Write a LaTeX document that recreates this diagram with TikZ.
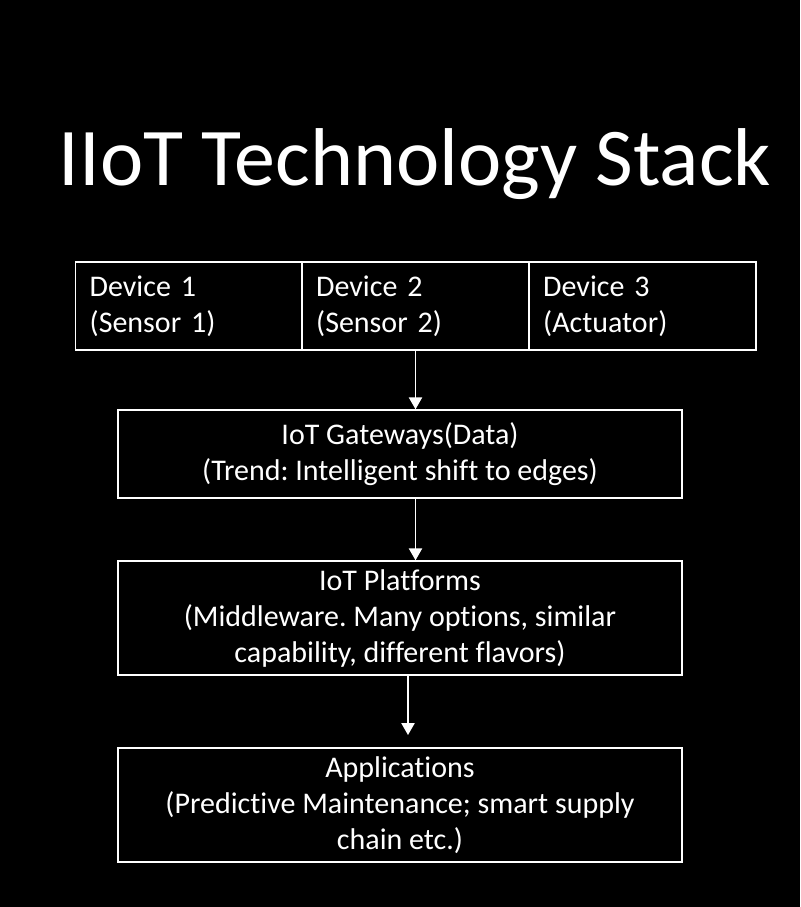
\documentclass[tikz,border=0pt]{standalone}
\usepackage{fontspec}
\setmainfont{Carlito}[Ligatures={NoCommon}]
\usetikzlibrary{arrows.meta}
\tikzset{
  box/.style={draw=white,line width=1.1pt,text=white,inner sep=0pt,font=\fontsize{22.5}{27}\selectfont},
  devbox/.style={box,minimum width=170pt,minimum height=66pt,text width=149pt,align=left},
  layerbox/.style={box,minimum width=423pt,align=center},
  flow/.style={draw=white,line width=1.1pt,-{Triangle[width=10pt,length=9pt]}}
}
\frenchspacing
\begin{document}
\begin{tikzpicture}[x=0.75pt,y=-0.75pt]
	\fill[black] (0,0) rectangle (800,907);
	\node[text=white,font=\fontsize{61.5}{66}\selectfont,anchor=base] (title) at (415,185) {IIoT Technology Stack};
	% devices
	\node[devbox] (dev1) at (189,306) {Device 1\\(Sensor 1)};
	\node[devbox] (dev2) at (415.5,306) {Device 2\\(Sensor 2)};
	\node[devbox] (dev3) at (642.5,306) {Device 3\\(Actuator)};
	% layers
	\node[layerbox,minimum height=66pt] (gw) at (400,454) {IoT Gateways(Data)\\(Trend: Intelligent shift to edges)};
	\node[layerbox,minimum height=85.5pt] (plat) at (400,618) {IoT Platforms\\(Middleware. Many options, similar\\capability, different flavors)};
	\node[layerbox,minimum height=85.5pt] (app) at (400,805) {Applications\\(Predictive Maintenance; smart supply\\chain etc.)};
	% arrows
	\draw[flow] (dev2.south) -- (dev2.south |- gw.north);
	\draw[flow] (gw.south -| dev2) -- (plat.north -| dev2);
	\coordinate (tip) at (408,735);
	\draw[flow] (plat.south -| tip) -- (tip);
\end{tikzpicture}
\end{document}
